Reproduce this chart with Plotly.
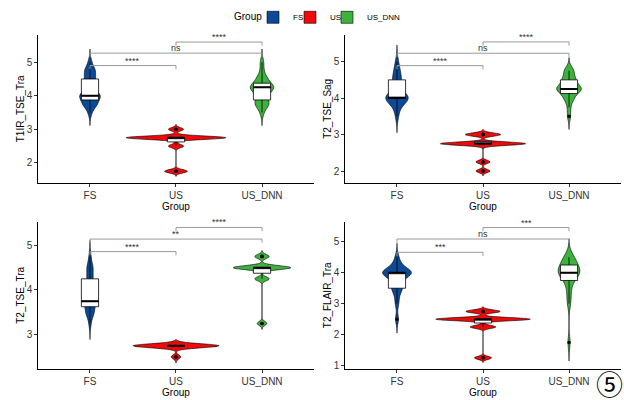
import numpy as np
import plotly.graph_objects as go

# ---------------- data (ratings) ----------------
groups = ["FS", "US", "US_DNN"]
panel_names = ["T1IR_TSE_Tra", "T2_TSE_Sag", "T2_TSE_Tra", "T2_FLAIR_Tra"]

t1ir_fs = [3.5, 3.75, 3.75, 3.75, 3.75, 4.0, 4.0, 4.0, 4.0, 4.0, 4.0,
           4.25, 4.25, 4.5, 4.5, 4.5, 4.75, 4.75, 4.75, 5.0]
t1ir_us = [1.75, 1.75, 1.75, 2.5, 2.5] + [2.75] * 13 + [3.0, 3.0]
t1ir_dnn = [3.5, 3.75, 3.75, 3.75, 3.75, 4.0, 4.0, 4.0] + [4.25] * 7 + \
           [4.5, 4.5, 4.5, 4.75, 5.0]

t2sag_fs = [3.5, 3.75, 3.75] + [4.0] * 9 + [4.25, 4.25, 4.5, 4.5, 4.5, 4.75, 4.75, 5.0]
t2sag_us = [2.0, 2.0, 2.25, 2.25] + [2.75] * 12 + [3.0] * 5
t2sag_dnn = [3.5, 3.75, 4.0, 4.0, 4.0] + [4.25] * 8 + [4.5] * 4 + [4.75] * 3

t2tra_fs = [3.25, 3.5, 3.5, 3.5, 3.5] + [3.75] * 6 + [4.0, 4.0, 4.25, 4.25, 4.25,
                                                     4.5, 4.5, 4.5, 4.75]
t2tra_us = [2.5, 2.5] + [2.75] * 18
t2tra_dnn = [3.25, 3.25, 4.25, 4.25, 4.25] + [4.5] * 12 + [4.75] * 3

flair_fs = [2.5, 3.0, 3.25, 3.5, 3.5, 3.5, 3.75, 3.75] + [4.0] * 9 + [4.25, 4.25, 4.5]
flair_us = [1.25, 1.25, 2.25, 2.25, 2.25] + [2.5] * 11 + [2.75] * 4
flair_dnn = [1.75, 3.0, 3.25, 3.5, 3.75, 3.75] + [4.0] * 7 + [4.25] * 4 + [4.5] * 3

panel_data = [
    {"FS": t1ir_fs, "US": t1ir_us, "US_DNN": t1ir_dnn},
    {"FS": t2sag_fs, "US": t2sag_us, "US_DNN": t2sag_dnn},
    {"FS": t2tra_fs, "US": t2tra_us, "US_DNN": t2tra_dnn},
    {"FS": flair_fs, "US": flair_us, "US_DNN": flair_dnn},
]

# significance brackets
comparisons = [("FS", "US"), ("FS", "US_DNN"), ("US", "US_DNN")]
sig_labels = [["****", "ns", "****"], ["****", "ns", "****"],
              ["****", "**", "****"], ["***", "ns", "***"]]
bracket_y = [[4.90, 5.27, 5.60], [4.89, 5.23, 5.54],
             [4.86, 5.14, 5.40], [4.66, 5.09, 5.46]]

y_ranges = [[1.41, 5.81], [1.68, 5.73], [2.23, 5.53], [0.89, 5.65]]
y_ticks = [[2, 3, 4, 5], [2, 3, 4, 5], [3, 4, 5], [1, 2, 3, 4, 5]]

# ---------------- styling ----------------
colors = {"FS": "#0b4a96", "US": "#ee0a0a", "US_DNN": "#3db33d"}
bandwidths = [
    {"FS": 0.13, "US": 0.05, "US_DNN": 0.13},
    {"FS": 0.15, "US": 0.045, "US_DNN": 0.12},
    {"FS": 0.12, "US": 0.045, "US_DNN": 0.045},
    {"FS": 0.15, "US": 0.05, "US_DNN": 0.2},
]
max_violin_width = [1.16, 0.99, 1.0, 1.1]   # widest violin of each panel
x_domains = [[0.0615, 0.5026], [0.5535, 0.9946]]
y_domains = [[0.5433, 0.9125], [0.0775, 0.4458]]
legend_ids = {"FS": "legend", "US": "legend2", "US_DNN": "legend3"}
legend_left_px = {"FS": 253, "US": 290, "US_DNN": 327}
FONT = "Liberation Sans, Arial, sans-serif"


def kde_peak(vals, bw):
    v = np.asarray(vals, float)
    grid = np.linspace(v.min() - 3 * bw, v.max() + 3 * bw, 2000)
    dens = np.exp(-0.5 * ((grid[:, None] - v[None, :]) / bw) ** 2).sum(1)
    return dens.max() / (len(v) * bw * np.sqrt(2 * np.pi))


fig = go.Figure()
median_shapes = []

for p in range(4):
    n = p + 1
    xr = "x" if n == 1 else f"x{n}"
    yr = "y" if n == 1 else f"y{n}"
    peaks = {g: kde_peak(panel_data[p][g], bandwidths[p][g]) for g in groups}
    top = max(peaks.values())
    for g in groups:
        vals = panel_data[p][g]
        bw = bandwidths[p][g]
        fig.add_trace(go.Violin(
            x=[g] * len(vals), y=vals, name=g, legendgroup=g,
            legend=legend_ids[g],
            showlegend=(p == 0), xaxis=xr, yaxis=yr,
            fillcolor=colors[g], line=dict(color="black", width=0.6),
            bandwidth=bw, spanmode="manual",
            span=[min(vals) - 3 * bw, max(vals) + 3 * bw],
            points=False, box_visible=False, meanline_visible=False,
            scalegroup=f"p{n}{g}", scalemode="width",
            width=max_violin_width[p] * peaks[g] / top, hoverinfo="skip"))
    for i, g in enumerate(groups):
        vals = panel_data[p][g]
        fig.add_trace(go.Box(
            x=[g] * len(vals), y=vals, name=g, legendgroup=g,
            showlegend=False, xaxis=xr, yaxis=yr,
            fillcolor="white", line=dict(color="black", width=0.8),
            width=0.2, whiskerwidth=0, boxpoints="outliers",
            jitter=0, pointpos=0,
            marker=dict(color="black", size=3.5, line=dict(width=0)),
            hoverinfo="skip"))
        med = float(np.median(vals))
        median_shapes.append(dict(type="line", xref=xr, yref=yr,
                                  x0=i - 0.1, x1=i + 0.1, y0=med, y1=med,
                                  line=dict(color="black", width=2)))

layout = dict(
    width=624, height=400,
    margin=dict(l=0, r=0, t=0, b=0),
    paper_bgcolor="white", plot_bgcolor="white",
    violinmode="overlay", boxmode="overlay",
    font=dict(family=FONT, size=10, color="black"),
    hovermode=False,
)
for g in groups:
    layout[legend_ids[g]] = dict(
        orientation="h", x=legend_left_px[g] / 624, xanchor="left",
        y=0.993, yanchor="top", font=dict(size=8), itemwidth=30,
        bgcolor="rgba(0,0,0,0)")

shapes = list(median_shapes)
annotations = []
for p in range(4):
    n = p + 1
    row, col = divmod(p, 2)
    xk = "xaxis" if n == 1 else f"xaxis{n}"
    yk = "yaxis" if n == 1 else f"yaxis{n}"
    xr = "x" if n == 1 else f"x{n}"
    yr = "y" if n == 1 else f"y{n}"
    layout[xk] = dict(
        domain=x_domains[col], anchor=yr, type="category",
        categoryorder="array", categoryarray=groups, range=[-0.6, 2.6],
        showline=True, linecolor="black", linewidth=1, mirror=False,
        ticks="outside", ticklen=3, tickcolor="#333333", tickwidth=1,
        showgrid=False, zeroline=False, automargin=False,
        tickfont=dict(size=10, color="#333333"),
        title=dict(text="Group", font=dict(size=10), standoff=1))
    layout[yk] = dict(
        domain=y_domains[row], anchor=xr, range=y_ranges[p],
        tickvals=y_ticks[p], showline=True, linecolor="black", linewidth=1,
        ticks="outside", ticklen=3, tickcolor="#333333", tickwidth=1,
        showgrid=False, zeroline=False, automargin=False,
        tickfont=dict(size=10, color="#333333"),
        title=dict(text=panel_names[p], font=dict(size=10), standoff=0))
    tip = 0.025 * (y_ranges[p][1] - y_ranges[p][0])
    for (a, b), lab, yb in zip(comparisons, sig_labels[p], bracket_y[p]):
        xa, xb = groups.index(a), groups.index(b)
        line = dict(color="#9a9a9a", width=1)
        shapes.append(dict(type="line", xref=xr, yref=yr, x0=xa, x1=xb,
                           y0=yb, y1=yb, line=line))
        shapes.append(dict(type="line", xref=xr, yref=yr, x0=xa, x1=xa,
                           y0=yb, y1=yb - tip, line=line))
        shapes.append(dict(type="line", xref=xr, yref=yr, x0=xb, x1=xb,
                           y0=yb, y1=yb - tip, line=line))
        annotations.append(dict(x=(xa + xb) / 2, y=yb, xref=xr, yref=yr,
                                text=lab, showarrow=False, yanchor="bottom",
                                yshift=-2, font=dict(size=9, color="#333333")))

annotations.append(dict(x=264 / 624, y=1 - 17 / 400, xref="paper", yref="paper",
                        text="Group", showarrow=False, xanchor="right",
                        yanchor="middle", font=dict(size=10, color="black")))
annotations.append(dict(x=610 / 624, y=1 - 383 / 400, xref="paper", yref="paper",
                        text="⑤", showarrow=False, xshift=15, yshift=-22,
                        font=dict(size=27, color="black",
                                  family="Noto Sans CJK JP, DejaVu Serif")))
layout["shapes"] = shapes
layout["annotations"] = annotations
fig.update_layout(**layout)

fig.write_html("out.html", config={"displayModeBar": False},
               post_script="document.body.style.margin='0';"
                           "document.body.style.padding='0';")
